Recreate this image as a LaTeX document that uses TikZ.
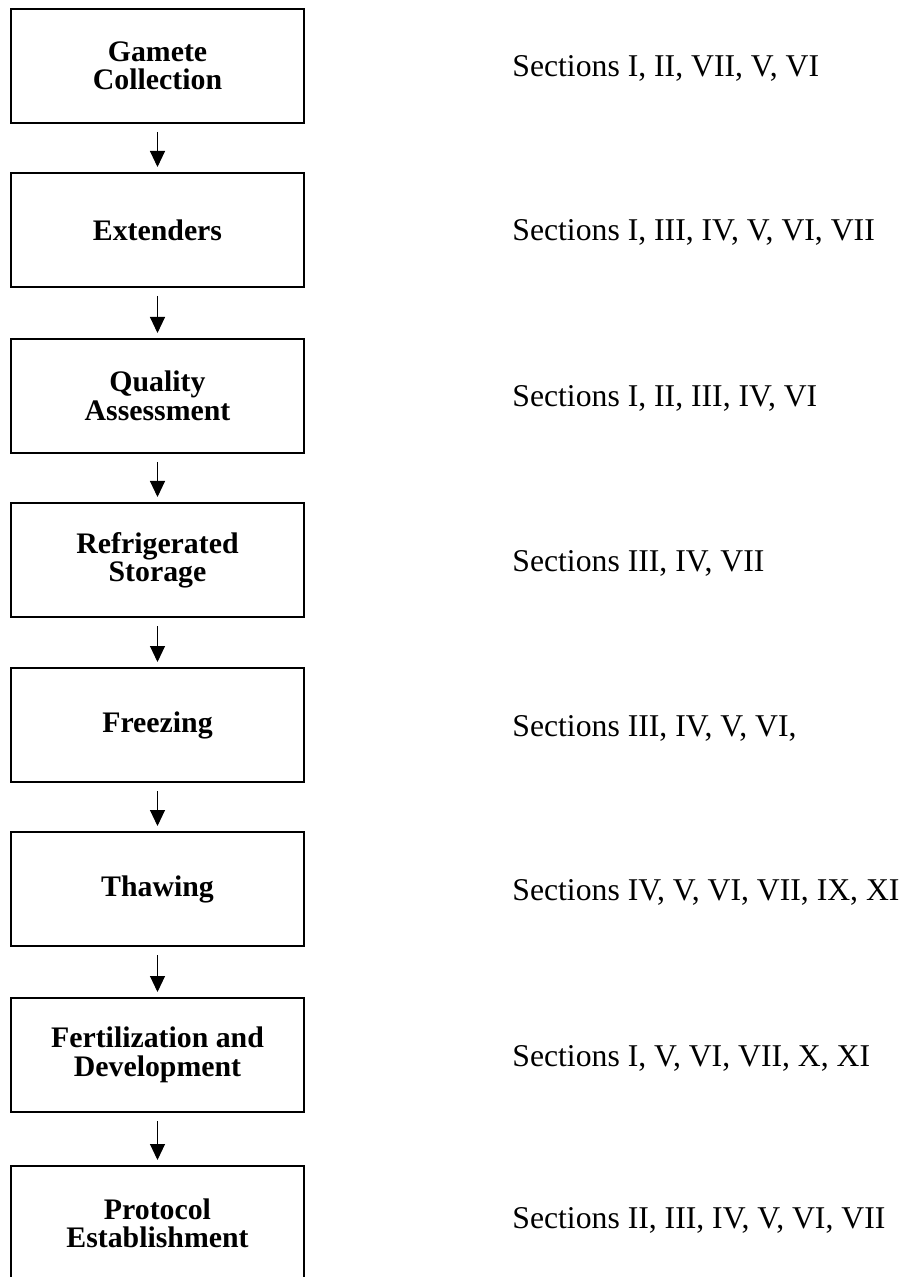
\documentclass[tikz,border=0pt]{standalone}
\usepackage{fontspec}
\setmainfont{Liberation Serif}
\usetikzlibrary{arrows.meta}
\tikzset{stage/.style={draw, line width=1pt, rectangle, inner sep=0pt,
    minimum width=146.5pt, minimum height=57pt, align=center,
    font=\fontsize{14.9}{14.2}\selectfont\bfseries},
  sect/.style={anchor=base west, inner sep=0pt, font=\fontsize{15.85}{18}\selectfont},
  flow/.style={line width=0.5pt, -{Triangle[length=8pt,width=7.5pt]}}}

\begin{document}
\begin{tikzpicture}[x=0.5pt,y=-0.5pt]
\useasboundingbox (0,0) rectangle (914,1277);
\clip (0,0) rectangle (914,1277);
\node[stage] (b1) at (157.5,66) {Gamete\\Collection};
\node[stage] (b2) at (157.5,230) {Extenders};
\node[stage] (b3) at (157.5,396) {Quality\\Assessment};
\node[stage] (b4) at (157.5,560) {Refrigerated\\Storage};
\node[stage] (b5) at (157.5,725) {Freezing};
\node[stage] (b6) at (157.5,889) {Thawing};
\node[stage] (b7) at (157.5,1055) {Fertilization and\\Development};
\node[stage] (b8) at (157.5,1223) {Protocol\\Establishment};
\node[sect] (s1) at (512,77) {Sections I, II, VII, V, VI};
\node[sect] (s2) at (512,241) {Sections I, III, IV, V, VI, VII};
\node[sect] (s3) at (512,407) {Sections I, II, III, IV, VI};
\node[sect] (s4) at (512,571) {Sections III, IV, VII};
\node[sect] (s5) at (512,736) {Sections III, IV, V, VI,};
\node[sect] (s6) at (512,900) {Sections IV, V, VI, VII, IX, XI};
\node[sect] (s7) at (512,1066) {Sections I, V, VI, VII, X, XI};
\node[sect] (s8) at (512,1228) {Sections II, III, IV, V, VI, VII};
\draw[flow] ([yshift=-4pt]b1.south) -- ([yshift=2.5pt]b2.north);
\draw[flow] ([yshift=-4pt]b2.south) -- ([yshift=2.5pt]b3.north);
\draw[flow] ([yshift=-4pt]b3.south) -- ([yshift=2.5pt]b4.north);
\draw[flow] ([yshift=-4pt]b4.south) -- ([yshift=2.5pt]b5.north);
\draw[flow] ([yshift=-4pt]b5.south) -- ([yshift=2.5pt]b6.north);
\draw[flow] ([yshift=-4pt]b6.south) -- ([yshift=2.5pt]b7.north);
\draw[flow] ([yshift=-4pt]b7.south) -- ([yshift=2.5pt]b8.north);
\end{tikzpicture}
\end{document}
